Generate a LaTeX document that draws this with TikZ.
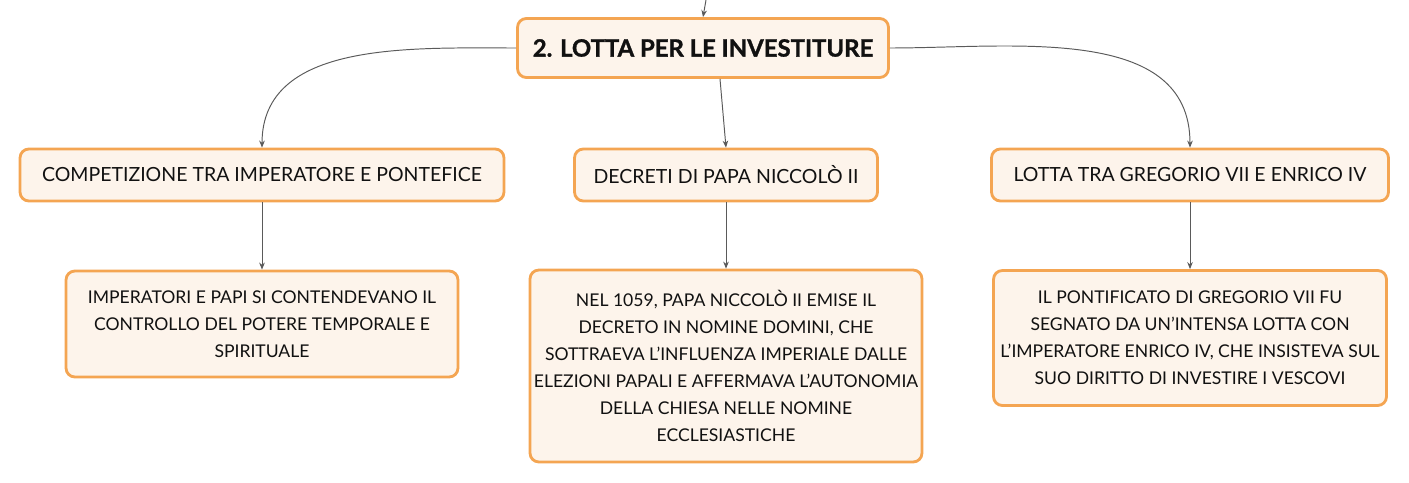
\documentclass[tikz,border=0pt]{standalone}
\usepackage{fontspec}
\setmainfont{Lato}
\usetikzlibrary{arrows.meta}

\definecolor{boxline}{HTML}{F4A552}
\definecolor{boxfill}{HTML}{FDF4EB}
\definecolor{linkgray}{HTML}{5A5A5A}
\definecolor{ink}{HTML}{111111}

\tikzset{
	box/.style={draw=boxline, fill=boxfill, line width=1.6pt, rounded corners=5pt,
		align=center, inner sep=0pt, text=ink,
		font=\fontsize{10}{15.3}\selectfont},
	topic/.style={box, minimum height=1.04cm, font=\fontsize{11.1}{13}\selectfont},
	link/.style={draw=linkgray, line width=0.55pt, -{Stealth[length=4pt,width=3.2pt]}}
}

\begin{document}
\begin{tikzpicture}[x=0.02cm,y=-0.02cm]
	\useasboundingbox (0,0) rectangle (1409,483);

	% title
	\node[box, minimum width=7.42cm, minimum height=1.18cm,
		font=\fontsize{13.6}{16}\selectfont\bfseries\addfontfeatures{FakeBold=1.2}] (lotta) at (703,48) {2. LOTTA PER LE INVESTITURE};
	\coordinate (su) at (706,0);

	% second row
	\node[topic, minimum width=9.68cm] (competizione) at (262,175) {COMPETIZIONE TRA IMPERATORE E PONTEFICE};
	\node[topic, minimum width=6.06cm] (decreti) at (726,175) {DECRETI DI PAPA NICCOLÒ II};
	\node[topic, minimum width=7.94cm] (gregorio) at (1190,175) {LOTTA TRA GREGORIO VII E ENRICO IV};

	% third row
	\node[box, minimum width=7.84cm, minimum height=2.12cm] (contesa) at (262,324)
		{IMPERATORI E PAPI SI CONTENDEVANO IL\\CONTROLLO DEL POTERE TEMPORALE E\\SPIRITUALE};
	\node[box, minimum width=7.84cm, minimum height=3.84cm] (nomine) at (726,366)
		{NEL 1059, PAPA NICCOLÒ II EMISE IL\\DECRETO IN NOMINE DOMINI, CHE\\SOTTRAEVA L’INFLUENZA IMPERIALE DALLE\\ELEZIONI PAPALI E AFFERMAVA L’AUTONOMIA\\DELLA CHIESA NELLE NOMINE\\ECCLESIASTICHE};
	\node[box, minimum width=7.86cm, minimum height=2.7cm] (pontificato) at (1190,338)
		{IL PONTIFICATO DI GREGORIO VII FU\\SEGNATO DA UN'INTENSA LOTTA CON\\L'IMPERATORE ENRICO IV, CHE INSISTEVA SUL\\SUO DIRITTO DI INVESTIRE I VESCOVI};

	% links
	\draw[link] (su) -- (lotta.north);
	\draw[link] (lotta.west) to[out=180,in=90] (competizione.north);
	\draw[link] ([xshift=0.34cm]lotta.south) to[out=-85,in=95] (decreti.north);
	\draw[link] (lotta.east) to[out=0,in=90] (gregorio.north);
	\draw[link] (competizione) -- (contesa);
	\draw[link] (decreti) -- (nomine);
	\draw[link] (gregorio) -- (pontificato);

\end{tikzpicture}
\end{document}
